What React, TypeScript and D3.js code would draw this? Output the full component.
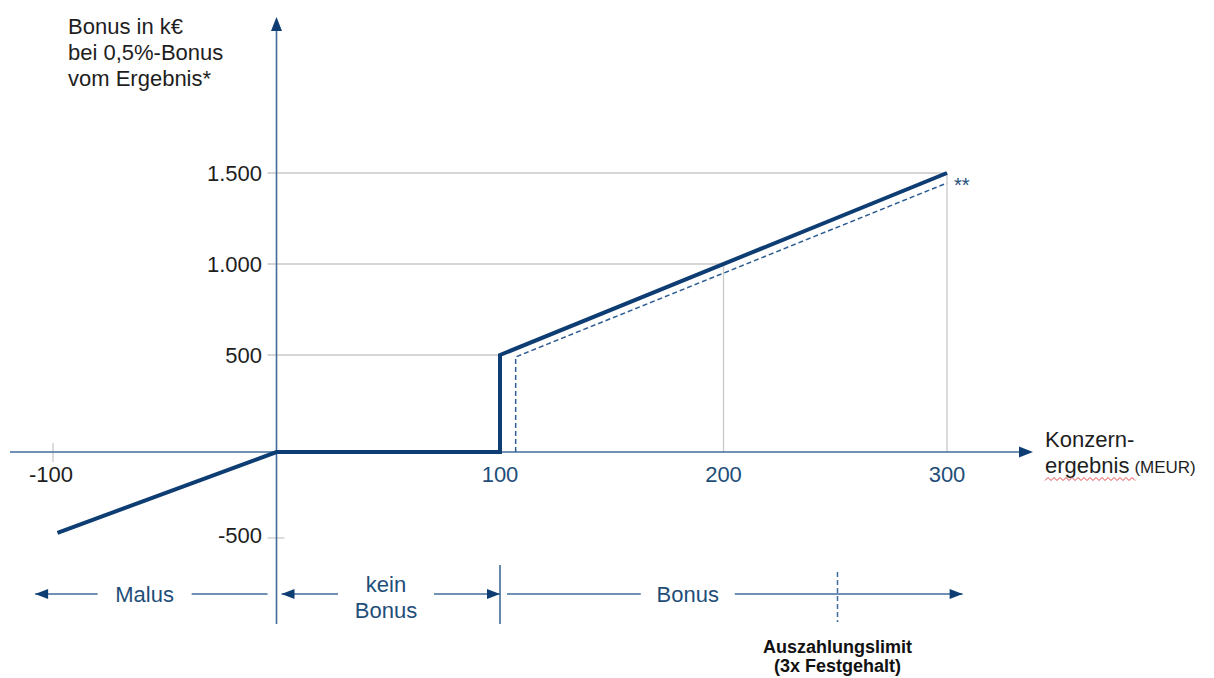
import React from "react";
import * as d3 from "d3";

// ---- data ----
const xTickValues = [-100, 100, 200, 300];
const yTickValues = [-500, 500, 1000, 1500];
// main bonus curve (solid)
const mainX = [-98, 0, 100, 100, 300];
const mainY = [-470, 0, 0, 500, 1500];
// alternative curve (dashed, "**")
const dashX = [107, 107, 300];
const dashY = [0, 490, 1445];
// helper grid points on the curve
const gridX = [100, 200, 300];
const gridY = [500, 1000, 1500];
// bottom regions
const regionNames = [["Malus"], ["kein", "Bonus"], ["Bonus"]];
const regionStart = [-108, 0, 100];
const regionEnd = [0, 100, 307];
const regionLabelAt = [-59, 49, 184];
const limitAt = 251;

const W = 1214;
const H = 678;
const FONT = "'Liberation Sans', Arial, Helvetica, sans-serif";
const AXIS = "#3f6c9c";
const LINE = "#0d3d72";
const BLUE_TXT = "#1f4e79";
const GRID = "#c9c9c9";
const TXT = "#1e1e1e";

export default function App() {
  const x = d3.scaleLinear().domain([-100, 300]).range([53, 947]);
  const y = d3.scaleLinear().domain([-500, 0, 500, 1500]).range([538, 452, 355, 173]);
  const de = d3.formatLocale({ decimal: ",", thousands: ".", grouping: [3], currency: ["", "€"], minus: "-" });
  const fmt = de.format(",");

  const lineGen = d3
    .line<[number, number]>()
    .x((d) => x(d[0]))
    .y((d) => y(d[1]));
  const mainPath = lineGen(mainX.map((v, i) => [v, mainY[i]] as [number, number]));
  const dashPath = lineGen(dashX.map((v, i) => [v, dashY[i]] as [number, number]));

  const x0 = x(0);
  const y0 = y(0);
  const rowY = 594;

  // wavy spell-check underline
  const wave = d3.range(0, 31).map((i) => [1045 + i * 3, 479 + (i % 2 === 0 ? 1.5 : -1.5)] as [number, number]);
  const wavePath = d3.line()(wave);

  const arrowLeft = (tx: number, yy: number) => `M${tx},${yy} L${tx + 13},${yy - 5} L${tx + 13},${yy + 5} Z`;
  const arrowRight = (tx: number, yy: number) => `M${tx},${yy} L${tx - 13},${yy - 5} L${tx - 13},${yy + 5} Z`;

  return (
    <svg
      width={W}
      height={H}
      style={{ position: "absolute", left: 0, top: 0, background: "#fff" }}
      fontFamily={FONT}
    >
      <rect width={W} height={H} fill="#fff" />

      {/* grid helper lines */}
      {gridX.map((gx, i) => (
        <g key={"g" + i} stroke={GRID} strokeWidth={1.3}>
          <line x1={x0 - 9} x2={x(gx)} y1={y(gridY[i])} y2={y(gridY[i])} />
          <line x1={x(gx)} x2={x(gx)} y1={y(gridY[i])} y2={y0} />
        </g>
      ))}
      {/* -500 tick and -100 tick */}
      <line x1={x0 - 9} x2={x0 + 8} y1={y(-500)} y2={y(-500)} stroke={GRID} strokeWidth={1.3} />
      <line x1={x(-100)} x2={x(-100)} y1={y0 - 9} y2={y0 + 10} stroke={GRID} strokeWidth={1.3} />

      {/* axes */}
      <line x1={10} x2={1022} y1={y0} y2={y0} stroke={AXIS} strokeWidth={1.6} />
      <path d={`M1033,${y0} L1019,${y0 - 5.5} L1019,${y0 + 5.5} Z`} fill={LINE} />
      <line x1={x0} x2={x0} y1={28} y2={624} stroke={AXIS} strokeWidth={1.6} />
      <path d={`M${x0},17 L${x0 - 5.5},31 L${x0 + 5.5},31 Z`} fill={LINE} />

      {/* y tick labels */}
      {yTickValues.map((v) => (
        <text
          key={"yt" + v}
          x={262}
          y={y(v) + (v < 0 ? -3 : 0)}
          textAnchor="end"
          dominantBaseline="central"
          fontSize={22}
          fill={TXT}
        >
          {fmt(v)}
        </text>
      ))}
      {/* x tick labels */}
      {xTickValues.map((v) => (
        <text
          key={"xt" + v}
          x={x(v) + (v < 0 ? -2 : 0)}
          y={474}
          textAnchor="middle"
          dominantBaseline="central"
          fontSize={22}
          fill={v < 0 ? TXT : BLUE_TXT}
        >
          {fmt(v)}
        </text>
      ))}

      {/* curves */}
      <path d={dashPath || ""} fill="none" stroke="#2c5d93" strokeWidth={1.5} strokeDasharray="5,3" />
      <path d={mainPath || ""} fill="none" stroke={LINE} strokeWidth={4} strokeLinejoin="miter" />
      <text x={954} y={192} fontSize={20} fill={BLUE_TXT}>
        **
      </text>

      {/* y axis title */}
      <text x={68} fontSize={22} fill={TXT}>
        <tspan x={68} y={34}>Bonus in k€</tspan>
        <tspan x={68} y={60}>bei 0,5%-Bonus</tspan>
        <tspan x={68} y={86}>vom Ergebnis*</tspan>
      </text>

      {/* x axis title */}
      <text fontSize={22} fill={TXT}>
        <tspan x={1045} y={447}>Konzern-</tspan>
        <tspan x={1045} y={473}>ergebnis</tspan>
        <tspan fontSize={17} dx={5}>(MEUR)</tspan>
      </text>
      <path d={wavePath || ""} fill="none" stroke="#e03030" strokeWidth={0.9} />

      {/* bottom regions */}
      <line x1={x(100)} x2={x(100)} y1={565} y2={624} stroke={AXIS} strokeWidth={1.6} />
      {regionNames.map((lines, i) => {
        const cx = x(regionLabelAt[i]);
        const half = lines.length > 1 ? 31 : 30;
        const left = x(regionStart[i]);
        const right = x(regionEnd[i]);
        const gap = 17;
        const lx1 = i === 0 ? left : i === 1 ? left + 5 : left + 7;
        const rx2 = i === 0 ? right - 9 : right;
        return (
          <g key={"r" + i}>
            <line x1={lx1} x2={cx - half - gap} y1={rowY} y2={rowY} stroke={AXIS} strokeWidth={1.6} />
            <line x1={cx + half + gap} x2={rx2} y1={rowY} y2={rowY} stroke={AXIS} strokeWidth={1.6} />
            {i < 2 && <path d={arrowLeft(lx1, rowY)} fill={LINE} />}
            {i > 0 && <path d={arrowRight(rx2, rowY)} fill={LINE} />}
            {lines.length === 1 ? (
              <text x={cx} y={rowY} textAnchor="middle" dominantBaseline="central" fontSize={22} fill={BLUE_TXT}>
                {lines[0]}
              </text>
            ) : (
              <text textAnchor="middle" fontSize={22} fill={BLUE_TXT}>
                <tspan x={cx} y={592}>{lines[0]}</tspan>
                <tspan x={cx} y={618}>{lines[1]}</tspan>
              </text>
            )}
          </g>
        );
      })}
      {/* payout limit */}
      <line x1={x(limitAt)} x2={x(limitAt)} y1={572} y2={622} stroke={AXIS} strokeWidth={1.5} strokeDasharray="5,3" />
      <text textAnchor="middle" fontSize={18} fontWeight="bold" fill="#111">
        <tspan x={x(limitAt)} y={653}>Auszahlungslimit</tspan>
        <tspan x={x(limitAt)} y={672}>(3x Festgehalt)</tspan>
      </text>
    </svg>
  );
}
